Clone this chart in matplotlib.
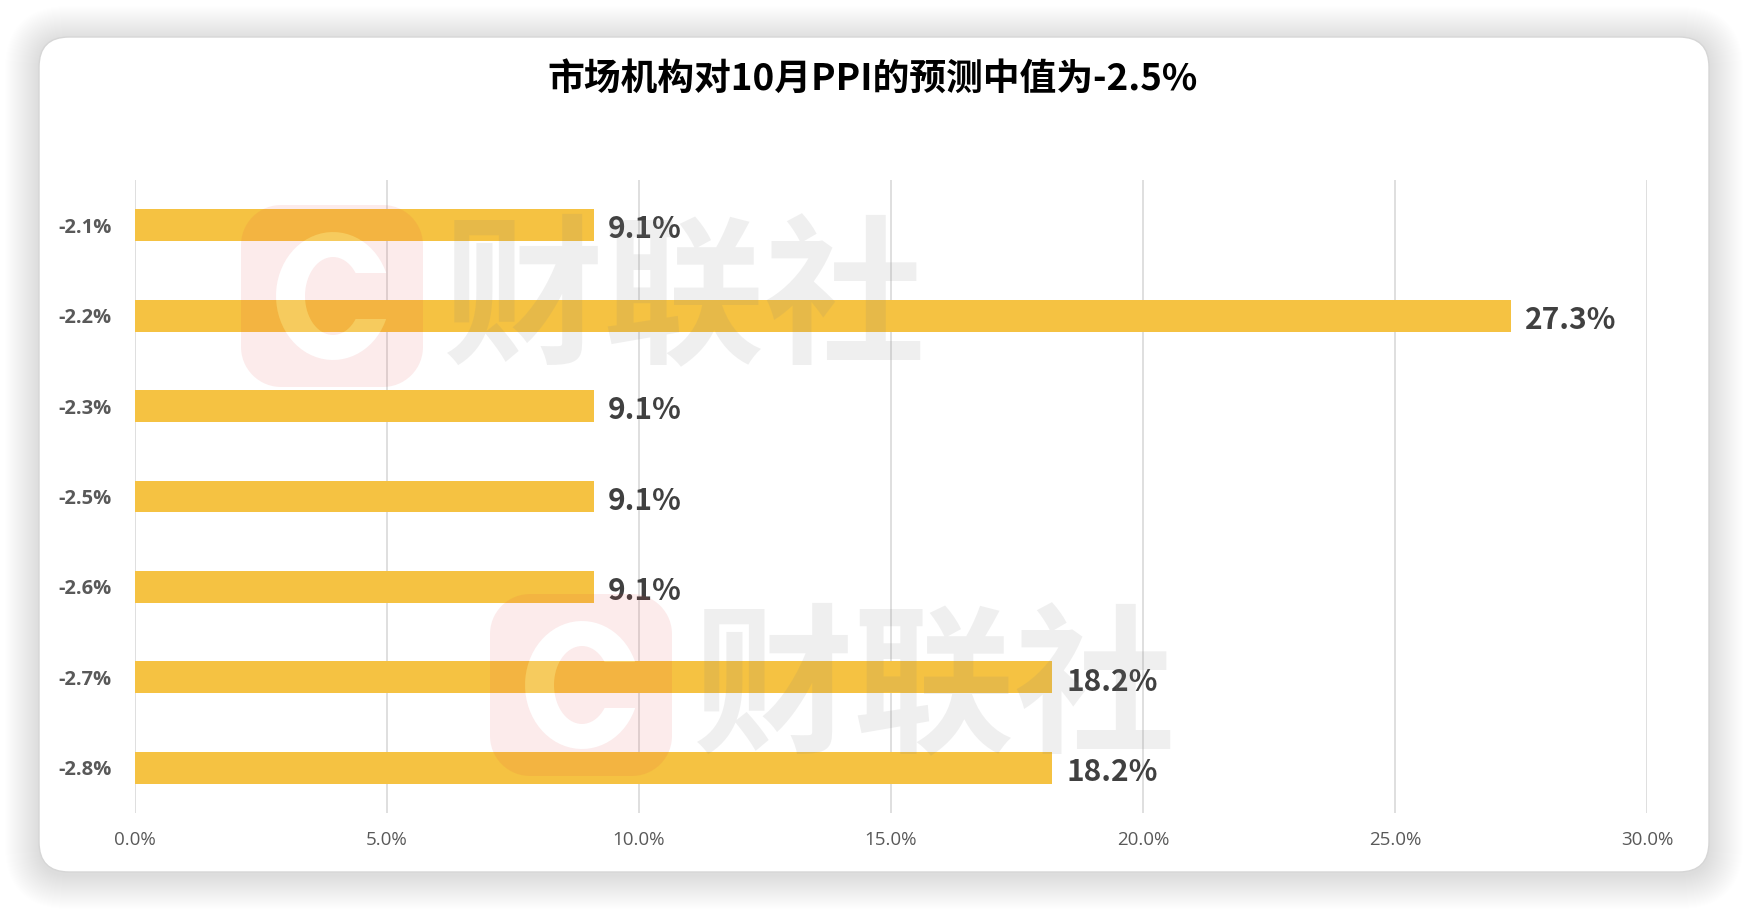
import numpy as np
import matplotlib
matplotlib.use('Agg')
import matplotlib.pyplot as plt
from matplotlib.patches import FancyBboxPatch, PathPatch
from matplotlib.path import Path
from matplotlib.transforms import IdentityTransform

# ---------------- data ----------------
categories = ['-2.1%', '-2.2%', '-2.3%', '-2.5%', '-2.6%', '-2.7%', '-2.8%']
shares = [9.1, 27.3, 9.1, 9.1, 9.1, 18.2, 18.2]
value_labels = ['9.1%', '27.3%', '9.1%', '9.1%', '9.1%', '18.2%', '18.2%']
x_ticks = [0, 5, 10, 15, 20, 25, 30]
x_tick_labels = ['0.0%', '5.0%', '10.0%', '15.0%', '20.0%', '25.0%', '30.0%']
title = '市场机构对10月PPI的预测中值为-2.5%'
watermark = '财联社'

CJK = ['Noto Sans CJK SC', 'DejaVu Sans']
W, H = 1746, 910
fig = plt.figure(figsize=(W / 100, H / 100), dpi=100)
fig.patch.set_facecolor('white')
ID = IdentityTransform()

# ---------------- card with soft shadow ----------------
cx0, cy0, cw, ch, rad = 39, 38, 1670, 835, 30
for i in range(34, 0, -1):
    fig.add_artist(FancyBboxPatch(
        (cx0 - i, cy0 - i - 3), cw + 2 * i, ch + 2 * i,
        boxstyle=f'round,pad=0,rounding_size={rad + i}', transform=ID,
        facecolor='black', edgecolor='none', alpha=0.005, zorder=-20))
fig.add_artist(FancyBboxPatch(
    (cx0, cy0), cw, ch, boxstyle=f'round,pad=0,rounding_size={rad}',
    transform=ID, facecolor='white', edgecolor='#d6d6d6', linewidth=1.0,
    zorder=-10))

# ---------------- axes ----------------
ax = fig.add_axes([135 / W, 1 - 813 / H, 1512 / W, (813 - 180) / H])
ax.set_facecolor('none')
ypos = np.arange(len(categories))
ax.barh(ypos, shares, height=0.353, color='#F5C242', zorder=2)
ax.set_xlim(0, 30)
ax.set_ylim(len(categories) - 0.5, -0.5)
ax.set_xticks(x_ticks)
ax.set_xticklabels(x_tick_labels, fontfamily='Open Sans', fontsize=13.5,
                   color='#595959')
ax.set_yticks(ypos)
ax.set_yticklabels(categories, fontfamily='Open Sans', fontweight='bold',
                   fontsize=14.5, color='#595959')
ax.tick_params(axis='x', length=0, pad=13)
ax.tick_params(axis='y', length=0, pad=17)
ax.xaxis.grid(True, color='#d9d9d9', linewidth=1.2)
ax.set_axisbelow(True)
for s in ax.spines.values():
    s.set_visible(False)

for i, (v, lbl) in enumerate(zip(shares, value_labels)):
    ax.annotate(lbl, (v, i), xytext=(10, -3), textcoords='offset points',
                ha='left', va='center', fontsize=21.5, fontweight='bold',
                color='#404040', family=CJK, zorder=6)

# ---------------- title ----------------
fig.text(873 / W, 1 - 79 / H, title, ha='center', va='center', fontsize=26.5,
         fontweight='bold', color='black', family=CJK)


# ---------------- watermarks ----------------
def rounded_square(cx, cy, half, r, n=16):
    pts = []
    corners = [(cx + half - r, cy - half + r, -90), (cx + half - r, cy + half - r, 0),
               (cx - half + r, cy + half - r, 90), (cx - half + r, cy - half + r, 180)]
    for (ox, oy, a0) in corners:
        t = np.radians(np.linspace(a0, a0 + 90, n))
        pts += list(zip(ox + r * np.cos(t), oy + r * np.sin(t)))
    return np.array(pts)


def c_shape(cx, cy, ao, bo, ai, bi, gap, n=60):
    to = np.arcsin(gap / bo)
    ti = np.arcsin(gap / bi)
    t1 = np.linspace(to, 2 * np.pi - to, n)
    t2 = np.linspace(2 * np.pi - ti, ti, n)
    outer = np.column_stack([cx + ao * np.cos(t1), cy + bo * np.sin(t1)])
    inner = np.column_stack([cx + ai * np.cos(t2), cy + bi * np.sin(t2)])
    return np.vstack([outer, inner])


def draw_watermark(sx, sy, tx, ty):
    sq = rounded_square(sx, sy, 91, 40)
    cpoly = c_shape(sx + 1, sy, 57, 64, 28, 39, 23)
    hole = cpoly[::-1]
    verts = np.vstack([sq, sq[:1], hole, hole[:1]])
    codes = ([Path.MOVETO] + [Path.LINETO] * (len(sq) - 1) + [Path.CLOSEPOLY] +
             [Path.MOVETO] + [Path.LINETO] * (len(hole) - 1) + [Path.CLOSEPOLY])
    fig.add_artist(PathPatch(Path(verts, codes), transform=ID,
                             facecolor=(0.9, 0.24, 0.24), edgecolor='none',
                             alpha=0.1, zorder=5))
    cverts = np.vstack([cpoly, cpoly[:1]])
    ccodes = [Path.MOVETO] + [Path.LINETO] * (len(cpoly) - 1) + [Path.CLOSEPOLY]
    fig.add_artist(PathPatch(Path(cverts, ccodes), transform=ID,
                             facecolor='white', edgecolor='none', alpha=0.15,
                             zorder=5))
    fig.text(tx / W, ty / H, watermark, ha='center', va='center', fontsize=116,
             fontweight='black', color=(0.5, 0.5, 0.5), alpha=0.12,
             family=CJK, zorder=5)


draw_watermark(332, H - 296, 685, H - 304)
draw_watermark(581, H - 685, 935, H - 693)

fig.savefig('out.png', dpi=100, facecolor='white')
